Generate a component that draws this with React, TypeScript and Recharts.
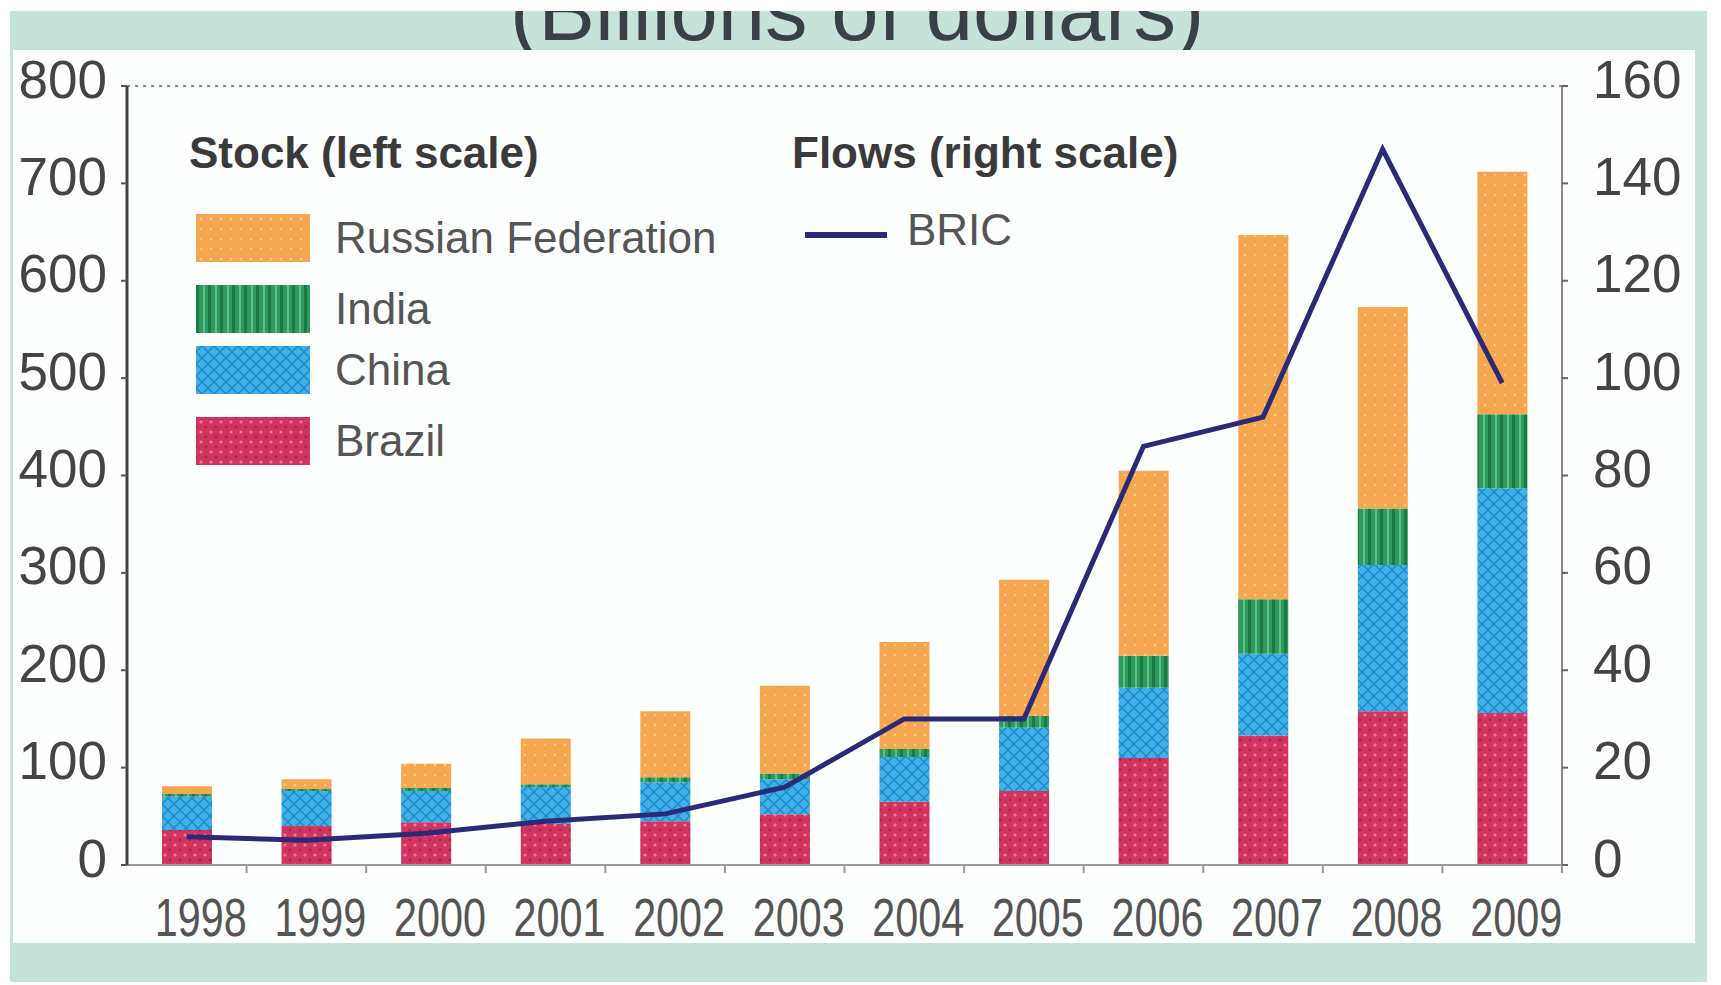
import {
  ComposedChart,
  Bar,
  Line,
  XAxis,
  YAxis,
  ReferenceLine,
} from "recharts";

const years = ["1998", "1999", "2000", "2001", "2002", "2003", "2004", "2005", "2006", "2007", "2008", "2009"];
const brazil = [36, 40, 44, 42, 45, 52, 65, 76, 110, 133, 158, 156];
const china = [34, 36, 32, 38, 40, 36, 46, 65, 72, 84, 150, 231];
const india = [3, 2, 3, 3, 5, 6, 8, 12, 33, 56, 58, 76];
const russia = [8, 10, 25, 47, 68, 90, 110, 140, 190, 374, 207, 249];
const bric = [5.8, 5.1, 6.5, 9, 10.5, 16, 30, 30, 86, 92, 147, 99];

const leftTicks = [0, 100, 200, 300, 400, 500, 600, 700, 800];
const rightTicks = [0, 20, 40, 60, 80, 100, 120, 140, 160];

const stockSeries = [
  { key: "russia", name: "Russian Federation", fill: "url(#pat-russia)" },
  { key: "india", name: "India", fill: "url(#pat-india)" },
  { key: "china", name: "China", fill: "url(#pat-china)" },
  { key: "brazil", name: "Brazil", fill: "url(#pat-brazil)" },
];

const data = years.map((year, i) => ({
  year,
  brazil: brazil[i],
  china: china[i],
  india: india[i],
  russia: russia[i],
  bric: bric[i],
}));

const FONT = "'Liberation Sans', Arial, sans-serif";
const PLOT_LEFT = 127;
const PLOT_RIGHT = 1562;
const BAND = (PLOT_RIGHT - PLOT_LEFT) / years.length;

function LeftTick({ x, y, payload }: any) {
  return (
    <text x={x} y={y} dy={-7} textAnchor="end" dominantBaseline="central" fontFamily={FONT} fontSize={53} fill="#444">
      {payload.value}
    </text>
  );
}

function RightTick({ x, y, payload }: any) {
  return (
    <text x={x} y={y} dy={-7} textAnchor="start" dominantBaseline="central" fontFamily={FONT} fontSize={53} fill="#444">
      {payload.value}
    </text>
  );
}

// year labels are condensed in the original, squeeze them to fit the band
function YearTick({ x, y, payload }: any) {
  return (
    <g>
      <line x1={x + BAND / 2} x2={x + BAND / 2} y1={y - 33} y2={y - 25} stroke="#9a9a9a" strokeWidth={2} />
      <text
        x={x + 14}
        y={y}
        dy="0.71em"
        textAnchor="middle"
        fontFamily={FONT}
        fontSize={54}
        textLength={92}
        lengthAdjust="spacingAndGlyphs"
        fill="#555"
      >
        {payload.value}
      </text>
    </g>
  );
}

function Patterns() {
  return (
    <defs>
      <pattern id="pat-russia" width={10} height={10} patternUnits="userSpaceOnUse">
        <rect width={10} height={10} fill="#F7A650" />
        <circle cx={5} cy={5} r={1.3} fill="#FBCB90" />
      </pattern>
      <pattern id="pat-india" width={12} height={10} patternUnits="userSpaceOnUse">
        <rect width={12} height={10} fill="#2E9B5E" />
        <rect x={0} width={3} height={10} fill="#1C7A46" />
        <rect x={7} width={2} height={10} fill="#5EBF89" />
      </pattern>
      <pattern id="pat-china" width={12} height={12} patternUnits="userSpaceOnUse">
        <rect width={12} height={12} fill="#3EB3EA" />
        <path d="M0 6 L6 0 L12 6 L6 12 Z" fill="none" stroke="#2389CB" strokeWidth={1.6} />
      </pattern>
      <pattern id="pat-brazil" width={10} height={10} patternUnits="userSpaceOnUse">
        <rect width={10} height={10} fill="#D2345F" />
        <circle cx={5} cy={5} r={1.6} fill="#EC7C99" />
        <circle cx={0} cy={0} r={1.4} fill="#A8224A" />
        <circle cx={10} cy={10} r={1.4} fill="#A8224A" />
        <circle cx={10} cy={0} r={1.4} fill="#A8224A" />
        <circle cx={0} cy={10} r={1.4} fill="#A8224A" />
      </pattern>
      <clipPath id="title-clip">
        <rect x={0} y={11} width={1721} height={39} />
      </clipPath>
    </defs>
  );
}

function Swatch({ fill }: { fill: string }) {
  return (
    <svg width={114} height={48} style={{ display: "block" }}>
      <rect width={114} height={48} fill={fill} />
    </svg>
  );
}

function LegendBlock() {
  const rows = [213, 284, 345, 416];
  return (
    <>
      <div style={{ position: "absolute", left: 189, top: 128, fontFamily: FONT, fontWeight: 700, fontSize: 44, color: "#3a3a3a", whiteSpace: "nowrap" }}>
        Stock (left scale)
      </div>
      {stockSeries.map((s, i) => (
        <div key={s.key} style={{ position: "absolute", left: 196, top: rows[i], display: "flex", alignItems: "center" }}>
          <Swatch fill={s.fill} />
          <span style={{ marginLeft: 25, fontFamily: FONT, fontSize: 44, color: "#555", whiteSpace: "nowrap" }}>{s.name}</span>
        </div>
      ))}
      <div style={{ position: "absolute", left: 792, top: 128, fontFamily: FONT, fontWeight: 700, fontSize: 44, color: "#3a3a3a", whiteSpace: "nowrap" }}>
        Flows (right scale)
      </div>
      <div style={{ position: "absolute", left: 805, top: 205, display: "flex", alignItems: "center" }}>
        <div style={{ width: 82, height: 6, background: "#2B2A78", marginTop: 10 }} />
        <span style={{ marginLeft: 20, fontFamily: FONT, fontSize: 44, color: "#555" }}>BRIC</span>
      </div>
    </>
  );
}

export default function App() {
  return (
    <div style={{ position: "absolute", left: 0, top: 0, width: 1721, height: 985, background: "#fff", overflow: "hidden" }}>
      <svg width={1721} height={985} style={{ position: "absolute", left: 0, top: 0 }}>
        <defs>
          <clipPath id="title-clip">
            <rect x={0} y={11} width={1721} height={39} />
          </clipPath>
        </defs>
        <rect x={10} y={11} width={1697} height={971} fill="#C6E3DA" />
        <text x={510} y={40} fontFamily={FONT} fontSize={85} fill="#3A4048" clipPath="url(#title-clip)">
          (Billions of dollars)
        </text>
        <rect x={13} y={50} width={1682} height={893} fill="#FDFEFE" />
      </svg>
      <div style={{ position: "absolute", left: 0, top: 0 }}>
        <ComposedChart width={1721} height={985} data={data} margin={{ top: 86, right: 0, bottom: 0, left: 0 }} barCategoryGap={0}>
          <Patterns />
          <XAxis
            dataKey="year"
            height={120}
            interval={0}
            tick={<YearTick />}
            tickLine={false}
            tickSize={0}
            tickMargin={33}
            axisLine={{ stroke: "#9a9a9a", strokeWidth: 2 }}
          />
          <YAxis
            yAxisId="left"
            orientation="left"
            width={PLOT_LEFT}
            domain={[0, 800]}
            ticks={leftTicks}
            interval={0}
            tick={<LeftTick />}
            tickSize={6}
            tickMargin={14}
            tickLine={{ stroke: "#555", strokeWidth: 2 }}
            axisLine={{ stroke: "#444", strokeWidth: 3 }}
          />
          <YAxis
            yAxisId="right"
            orientation="right"
            width={1721 - PLOT_RIGHT}
            domain={[0, 160]}
            ticks={rightTicks}
            interval={0}
            tick={<RightTick />}
            tickSize={6}
            tickMargin={25}
            tickLine={{ stroke: "#666", strokeWidth: 2 }}
            axisLine={{ stroke: "#888", strokeWidth: 2 }}
          />
          <ReferenceLine yAxisId="left" y={800} stroke="#8a8a8a" strokeWidth={2} strokeDasharray="3 5" />
          <Bar yAxisId="left" dataKey="brazil" stackId="stock" fill="url(#pat-brazil)" barSize={50} isAnimationActive={false} />
          <Bar yAxisId="left" dataKey="china" stackId="stock" fill="url(#pat-china)" barSize={50} isAnimationActive={false} />
          <Bar yAxisId="left" dataKey="india" stackId="stock" fill="url(#pat-india)" barSize={50} isAnimationActive={false} />
          <Bar yAxisId="left" dataKey="russia" stackId="stock" fill="url(#pat-russia)" barSize={50} isAnimationActive={false} />
          <Line
            yAxisId="right"
            type="linear"
            dataKey="bric"
            stroke="#2B2A78"
            strokeWidth={5}
            dot={false}
            activeDot={false}
            isAnimationActive={false}
          />
        </ComposedChart>
      </div>
      <LegendBlock />
    </div>
  );
}
